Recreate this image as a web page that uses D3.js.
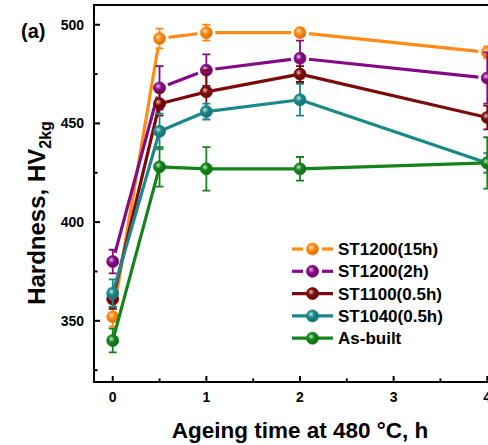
<!DOCTYPE html>
<html>
<head>
<meta charset="utf-8">
<script src="https://cdn.jsdelivr.net/npm/d3@7"></script>
<style>
  body { margin: 0; background: #fff; }
  svg { display: block; font-family: "Liberation Sans", Arial, sans-serif; font-weight: bold; }
</style>
</head>
<body>
<div id="chart"></div>
<script>
// ageing time (h)
const times = [0, 0.5, 1, 2, 4];
const seriesNames = ["ST1200(15h)", "ST1200(2h)", "ST1100(0.5h)", "ST1040(0.5h)", "As-built"];
const seriesColors = ["#ff8a14", "#850a85", "#7d0a0a", "#1a8888", "#14841a"];
const gapped = [true, true, false, false, false];

const hvST1200_15 = [352, 493, 496, 496, 486];
const hvST1200_2 = [380, 468, 477, 483, 473];
const hvST1100 = [361, 460, 466, 475, 453];
const hvST1040 = [364, 446, 456, 462, 430];
const hvAsBuilt = [340, 428, 427, 427, 430];

const errST1200_15 = [5, 5, 4, 2, 3];
const errST1200_2 = [6, 11, 8, 9, 13];
const errST1100 = [5, 6, 11, 4, 6];
const errST1040 = [7, 9, 4, 8, 5];
const errAsBuilt = [6, 10, 11, 6, 13];

const yTicks = [350, 400, 450, 500];
const yMinor = [325, 375, 425, 475];
const xTicks = [0, 1, 2, 3, 4];
const xMinor = [0.5, 1.5, 2.5, 3.5];

const values = [hvST1200_15, hvST1200_2, hvST1100, hvST1040, hvAsBuilt];
const errors = [errST1200_15, errST1200_2, errST1100, errST1040, errAsBuilt];

const W = 488, H = 445;
const x = d3.scaleLinear().domain([-0.2, 4.2]).range([94, 506]);
const y = d3.scaleLinear().domain([319, 510]).range([382, 5]);

const svg = d3.select("#chart").append("svg")
  .attr("width", W).attr("height", H);

const defs = svg.append("defs");
seriesColors.forEach((c, i) => {
  const g = defs.append("radialGradient").attr("id", "ball" + i)
    .attr("cx", "40%").attr("cy", "40%").attr("r", "60%")
    .attr("fx", "38%").attr("fy", "35%");
  g.append("stop").attr("offset", "0%").attr("stop-color", d3.interpolateRgb(c, "#fff")(0.75));
  g.append("stop").attr("offset", "45%").attr("stop-color", c);
  g.append("stop").attr("offset", "100%").attr("stop-color", d3.color(c).darker(0.6));
});

// frame
svg.append("path")
  .attr("d", `M${x.range()[0]},${y.range()[0]}V${y.range()[1]}H${x.range()[1]}V${y.range()[0]}Z`)
  .attr("fill", "none").attr("stroke", "#000").attr("stroke-width", 2);

// y axis
const yAxis = svg.append("g").attr("transform", `translate(${x.range()[0]},0)`);
yAxis.selectAll(".maj").data(yTicks).join("line")
  .attr("x1", 0).attr("x2", 6).attr("y1", d => y(d)).attr("y2", d => y(d))
  .attr("stroke", "#000").attr("stroke-width", 2);
yAxis.selectAll(".min").data(yMinor).join("line")
  .attr("x1", 0).attr("x2", 3.5).attr("y1", d => y(d)).attr("y2", d => y(d))
  .attr("stroke", "#000").attr("stroke-width", 2);
yAxis.selectAll("text").data(yTicks).join("text")
  .attr("x", -10).attr("y", d => y(d)).attr("dy", "0.36em")
  .attr("text-anchor", "end").attr("font-size", 14).text(d => d);

// x axis
const xAxis = svg.append("g").attr("transform", `translate(0,${y.range()[0]})`);
xAxis.selectAll(".maj").data(xTicks).join("line")
  .attr("x1", d => x(d)).attr("x2", d => x(d)).attr("y1", 0).attr("y2", -6)
  .attr("stroke", "#000").attr("stroke-width", 2);
xAxis.selectAll(".min").data(xMinor).join("line")
  .attr("x1", d => x(d)).attr("x2", d => x(d)).attr("y1", 0).attr("y2", -3.5)
  .attr("stroke", "#000").attr("stroke-width", 2);
xAxis.selectAll("text").data(xTicks).join("text")
  .attr("x", d => x(d)).attr("y", 20)
  .attr("text-anchor", "middle").attr("font-size", 14).text(d => d);

// titles
svg.append("text").attr("x", 300).attr("y", 438).attr("text-anchor", "middle")
  .attr("font-size", 22.5).text("Ageing time at 480 °C, h");
const yt = svg.append("text").attr("transform", "translate(45,213) rotate(-90)")
  .attr("text-anchor", "middle").attr("font-size", 24);
yt.append("tspan").text("Hardness, HV");
yt.append("tspan").attr("font-size", 16).attr("dy", 6).text("2kg");
svg.append("text").attr("x", 21).attr("y", 38).attr("font-size", 20).text("(a)");

// series
const r = 6, gap = 9;
values.forEach((vals, i) => {
  const c = seriesColors[i];
  const pts = times.map((t, j) => [x(t), y(vals[j])]);
  const g = svg.append("g");
  // lines
  for (let j = 0; j < pts.length - 1; j++) {
    let [x1, y1] = pts[j], [x2, y2] = pts[j + 1];
    if (gapped[i]) {
      const L = Math.hypot(x2 - x1, y2 - y1), ux = (x2 - x1) / L, uy = (y2 - y1) / L;
      x1 += ux * gap; y1 += uy * gap; x2 -= ux * gap; y2 -= uy * gap;
    }
    g.append("line").attr("x1", x1).attr("y1", y1).attr("x2", x2).attr("y2", y2)
      .attr("stroke", c).attr("stroke-width", 3.2);
  }
  // error bars
  times.forEach((t, j) => {
    const cx = x(t), top = y(vals[j] + errors[i][j]), bot = y(vals[j] - errors[i][j]);
    g.append("path")
      .attr("d", `M${cx},${top}V${bot}M${cx - 4},${top}H${cx + 4}M${cx - 4},${bot}H${cx + 4}`)
      .attr("stroke", c).attr("stroke-width", 1.8).attr("fill", "none");
  });
  // markers
  g.selectAll("circle").data(pts).join("circle")
    .attr("cx", d => d[0]).attr("cy", d => d[1]).attr("r", r)
    .attr("fill", `url(#ball${i})`).attr("stroke", c).attr("stroke-width", 0.8);
});

// legend
const leg = svg.append("g").attr("transform", "translate(292,249)");
seriesNames.forEach((name, i) => {
  const c = seriesColors[i];
  const row = leg.append("g").attr("transform", `translate(0,${i * 22.3})`);
  if (gapped[i]) {
    row.append("line").attr("x1", 0).attr("x2", 11).attr("stroke", c).attr("stroke-width", 3.2);
    row.append("line").attr("x1", 30).attr("x2", 41).attr("stroke", c).attr("stroke-width", 3.2);
  } else {
    row.append("line").attr("x1", 0).attr("x2", 41).attr("stroke", c).attr("stroke-width", 3.2);
  }
  row.append("circle").attr("cx", 20.5).attr("cy", 0).attr("r", r)
    .attr("fill", `url(#ball${i})`).attr("stroke", c).attr("stroke-width", 0.8);
  row.append("text").attr("x", 46).attr("dy", "0.36em").attr("font-size", 17).text(name);
});
</script>
</body>
</html>
